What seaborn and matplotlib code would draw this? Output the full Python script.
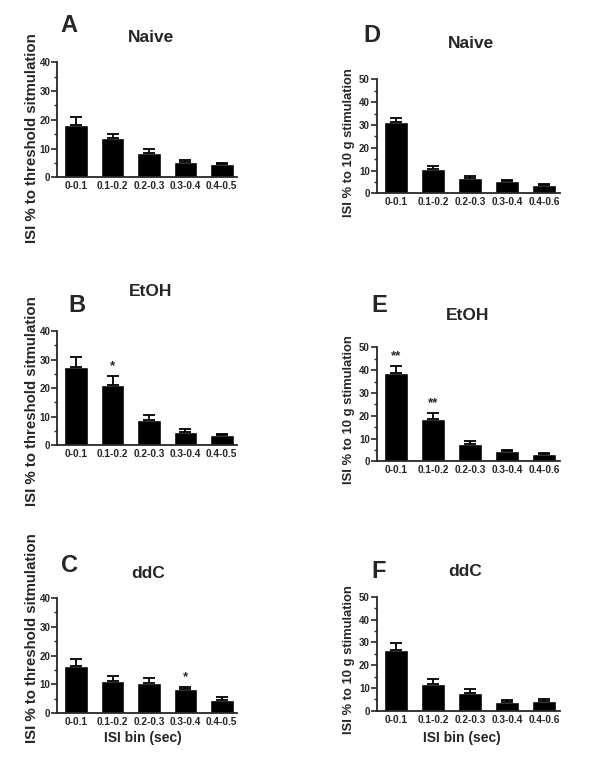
import numpy as np
import pandas as pd
import matplotlib
matplotlib.use("Agg")
import matplotlib.pyplot as plt
from matplotlib.ticker import MultipleLocator
import seaborn as sns

# ISI bins shared by every panel
bins = ["0-0.1", "0.1-0.2", "0.2-0.3", "0.3-0.4", "0.4-0.5"]
bins_right = ["0-0.1", "0.1-0.2", "0.2-0.3", "0.3-0.4", "0.4-0.6"]

# threshold stimulation (left column): mean and SEM
naive_thr = [18.1, 13.8, 8.6, 5.2, 4.6]
naive_thr_sem = [3.0, 1.4, 1.1, 0.9, 0.5]
etoh_thr = [27.3, 21.1, 8.9, 4.7, 3.7]
etoh_thr_sem = [3.7, 3.2, 1.7, 0.9, 0.4]
ddc_thr = [16.5, 11.1, 10.3, 8.2, 4.6]
ddc_thr_sem = [2.3, 1.9, 2.0, 1.0, 1.1]

# 10 g stimulation (right column)
naive_10g = [31.1, 10.7, 6.9, 5.3, 3.7]
naive_10g_sem = [1.9, 1.1, 0.8, 0.5, 0.4]
etoh_10g = [38.7, 18.4, 7.8, 4.4, 3.4]
etoh_10g_sem = [3.0, 2.8, 1.3, 0.4, 0.4]
ddc_10g = [26.5, 11.7, 7.9, 3.8, 4.4]
ddc_10g_sem = [3.3, 2.0, 1.5, 1.0, 0.7]

# significance marks
etoh_thr_sig = ["", "*", "", "", ""]
ddc_thr_sig = ["", "", "", "*", ""]
etoh_10g_sig = ["**", "**", "", "", ""]

W, H = 600, 765
sns.set_style("ticks")
plt.rcParams['font.family'] = ['Liberation Sans', 'DejaVu Sans']
plt.rcParams['font.weight'] = 'bold'

fig = plt.figure(figsize=(W / 100, H / 100), dpi=100)


def px_axes(left, top, right, bottom):
    return fig.add_axes([left / W, 1 - bottom / H, (right - left) / W, (bottom - top) / H])


def draw_panel(ax, labels, means, sems, ymax, sig=None):
    df = pd.DataFrame({"bin": labels, "value": means})
    sns.barplot(data=df, x="bin", y="value", color="black", width=0.65,
                errorbar=None, saturation=1, ax=ax)
    ax.errorbar(np.arange(len(means)), means, yerr=[np.zeros(len(sems)), sems],
                fmt="none", ecolor="black", elinewidth=1.3, capsize=4.3, capthick=1.3)
    if sig is not None:
        for i, s in enumerate(sig):
            if s:
                ax.text(i, means[i] + sems[i] + 0.085 * ymax, s, ha="center", va="center",
                        fontsize=9.5, fontweight="bold")
    ax.set_ylim(0, ymax)
    ax.set_xlim(-0.52, 4.42)
    ax.yaxis.set_major_locator(MultipleLocator(10))
    ax.yaxis.set_minor_locator(MultipleLocator(5))
    ax.tick_params(axis="y", which="major", length=4, width=1.2, labelsize=7, pad=1)
    ax.tick_params(axis="y", which="minor", length=2, width=1.0)
    ax.tick_params(axis="x", length=0, labelsize=7.3, pad=3)
    for lab in ax.get_xticklabels() + ax.get_yticklabels():
        lab.set_fontweight("bold")
    ax.set_xlabel("")
    ax.set_ylabel("")
    sns.despine(ax=ax)
    for side in ["left", "bottom"]:
        ax.spines[side].set_linewidth(1.3)


# layout in pixels: (left, top, right, bottom)
ax_a = px_axes(57.3, 62.3, 237, 177.3)
ax_b = px_axes(57.3, 331, 237, 445.3)
ax_c = px_axes(57.3, 598, 237, 713)
ax_d = px_axes(376.7, 79.3, 560, 193.3)
ax_e = px_axes(376.7, 347.3, 560, 461.3)
ax_f = px_axes(376.7, 596.7, 560, 710.7)

draw_panel(ax_a, bins, naive_thr, naive_thr_sem, 40)
draw_panel(ax_b, bins, etoh_thr, etoh_thr_sem, 40, etoh_thr_sig)
draw_panel(ax_c, bins, ddc_thr, ddc_thr_sem, 40, ddc_thr_sig)
draw_panel(ax_d, bins_right, naive_10g, naive_10g_sem, 50)
draw_panel(ax_e, bins_right, etoh_10g, etoh_10g_sem, 50, etoh_10g_sig)
draw_panel(ax_f, bins_right, ddc_10g, ddc_10g_sem, 50)


def ftext(x, y, s, **kw):
    fig.text(x / W, 1 - y / H, s, ha="center", va="center", fontweight="bold", **kw)


# panel letters
for letter, x, y in [("A", 69, 26), ("B", 77, 306), ("C", 69, 565),
                     ("D", 372, 35), ("E", 379, 305), ("F", 379, 571)]:
    ftext(x, y, letter, fontsize=17)

# panel titles
for title, x, y in [("Naive", 151, 38), ("EtOH", 151, 292), ("ddC", 148, 573),
                    ("Naive", 471, 44), ("EtOH", 468, 315), ("ddC", 465, 572)]:
    ftext(x, y, title, fontsize=12.5)

# y labels
for y in [138, 401, 638]:
    ftext(32, y, "ISI % to threshold sitmulation", fontsize=10.8, rotation=90)
for y in [143, 410, 660]:
    ftext(349, y, "ISI % to 10 g stimulation", fontsize=9.4, rotation=90)

# x labels
ftext(143, 738, "ISI bin (sec)", fontsize=10)
ftext(462, 738, "ISI bin (sec)", fontsize=10)

fig.savefig("out.png", dpi=100)
